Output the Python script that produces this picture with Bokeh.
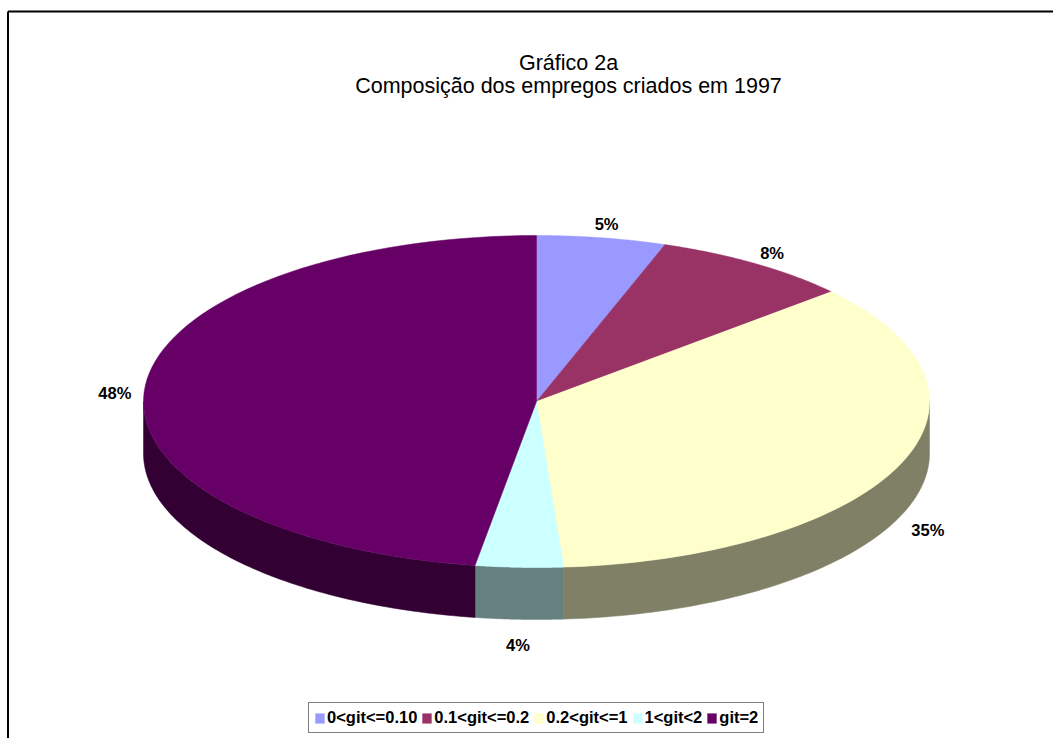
import numpy as np
from bokeh.plotting import figure
from bokeh.models import Range1d, Legend, LegendItem, ColumnDataSource
from bokeh.embed import file_html
from bokeh.resources import INLINE
from bokeh.core.properties import value

# ---- data ----
categories = ["0<git<=0.10", "0.1<git<=0.2", "0.2<git<=1", "1<git<2", "git=2"]
shares = [5.3, 8.2, 35.4, 3.6, 47.5]
colors = ["#9999FF", "#993366", "#FFFFCC", "#CCFFFF", "#660066"]
side_colors = ["#4D4D80", "#4D1A33", "#808066", "#668080", "#330033"]
title_lines = ["Gráfico 2a", "Composição dos empregos criados em 1997"]

# ---- figure (1 data unit = 1 page pixel, y downward) ----
W, H = 1053, 738
p = figure(width=W, height=H, output_backend="svg", toolbar_location=None,
           x_range=Range1d(0, W), y_range=Range1d(H, 0),
           x_axis_location=None, y_axis_location=None, min_border=0)
p.grid.visible = False
p.outline_line_color = None
p.background_fill_color = "white"
p.border_fill_color = "white"

# pie geometry
cx, cy, rx, ry, depth = 536.0, 401.0, 393.0, 166.0, 52.0
vals = np.array(shares, dtype=float)
edges = np.concatenate([[0.0], np.cumsum(vals)]) / vals.sum() * 360.0

top_xs, top_ys = [], []
side_xs, side_ys, side_fill = [], [], []
lab_x, lab_y, lab_t = [], [], []
for i in range(len(vals)):
    a0, a1 = edges[i], edges[i + 1]
    t = np.radians(np.linspace(a0, a1, 80))
    top_xs.append(list(np.concatenate([[cx], cx + rx * np.sin(t)])))
    top_ys.append(list(np.concatenate([[cy], cy - ry * np.cos(t)])))
    s0, s1 = max(a0, 90.0), min(a1, 270.0)
    if s1 > s0:
        ts = np.radians(np.linspace(s0, s1, 80))
        xa = cx + rx * np.sin(ts)
        ya = cy - ry * np.cos(ts)
        side_xs.append(list(np.concatenate([xa, xa[::-1]])))
        side_ys.append(list(np.concatenate([ya, (ya + depth)[::-1]])))
        side_fill.append(side_colors[i])
    m = np.radians((a0 + a1) / 2)
    lab_x.append(cx + (rx + 30) * np.sin(m))
    ly = cy - (ry + 20) * np.cos(m)
    if np.cos(m) < 0:
        ly += depth
    lab_y.append(ly + 6)
    lab_t.append(f"{vals[i] / vals.sum() * 100:.0f}%")

p.patches(xs=side_xs, ys=side_ys, fill_color=side_fill, line_color=side_fill, line_width=0.5)
tops = p.patches(source=ColumnDataSource(dict(xs=top_xs, ys=top_ys, c=colors)),
                 xs="xs", ys="ys", fill_color="c", line_color="c", line_width=0.5)

p.text(x=lab_x, y=lab_y, text=lab_t, text_align="center", text_baseline="alphabetic",
       text_font=value("Liberation Sans"), text_font_style="bold",
       text_font_size="16.5px", text_color="black")

# title
p.text(x=[568, 568], y=[62, 85], text=title_lines, text_align="center",
       text_baseline="alphabetic", text_font=value("Liberation Sans"),
       text_font_size="21.5px", text_color="black")

# chart border (left and top edges visible)
p.segment(x0=[7.5, 7.5], y0=[11, 11], x1=[7.5, W], y1=[H, 11],
          line_color="black", line_width=2)

legend = Legend(items=[LegendItem(label=categories[i], renderers=[tops], index=i)
                       for i in range(len(categories))],
                orientation="horizontal", location=(308, 5), margin=0,
                padding=5, spacing=4, label_standoff=2,
                glyph_width=11, glyph_height=12, label_height=16,
                label_text_font="Liberation Sans", label_text_font_style="bold",
                label_text_font_size="16.5px", label_text_color="black",
                border_line_color="black", border_line_width=1,
                background_fill_color="white", background_fill_alpha=1.0)
p.add_layout(legend)

open("out.html", "w").write(file_html(p, INLINE))
